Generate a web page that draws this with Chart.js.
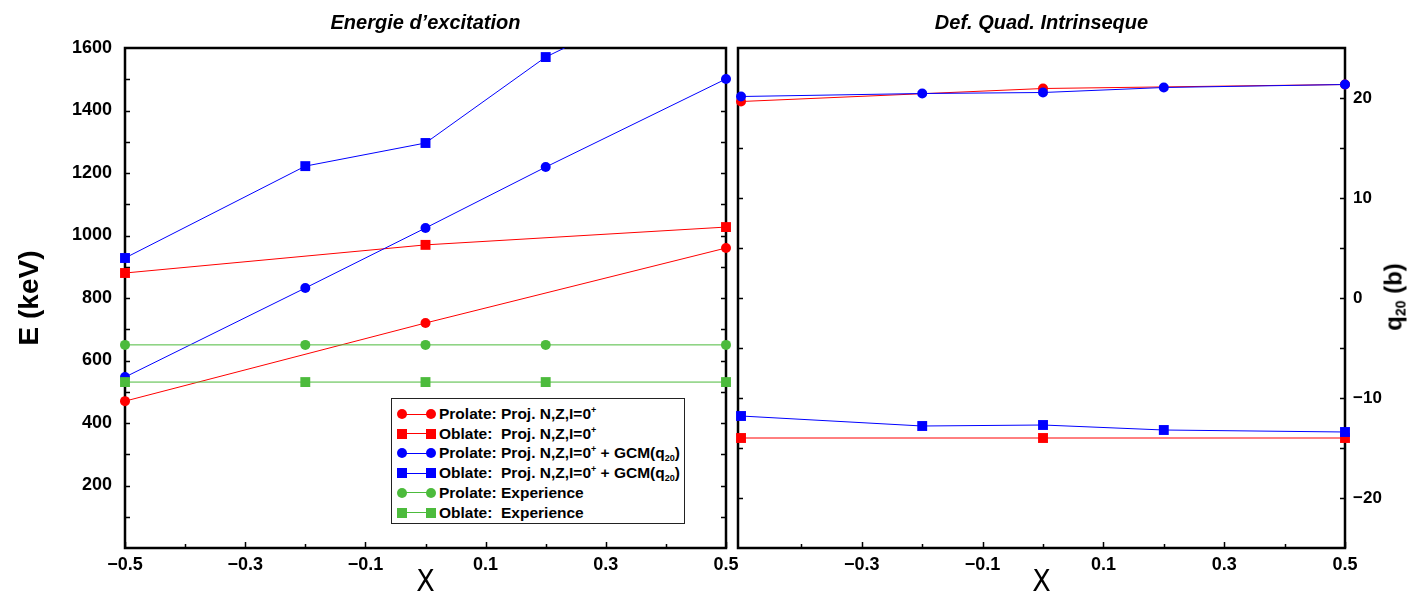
<!DOCTYPE html>
<html>
<head>
<meta charset="utf-8">
<script src="https://cdn.jsdelivr.net/npm/chart.js@4.4.0/dist/chart.umd.min.js"></script>
<style>
  body { margin: 0; background: #fff; }
  #wrap { position: relative; width: 1413px; height: 596px; overflow: hidden; font-family: 'Liberation Sans', Arial, sans-serif; }
  #left { position: absolute; left: 0; top: 0; }
  #right { position: absolute; left: 731px; top: 0; }
  #qtitle { position: absolute; left: 1394px; top: 297px; transform: translate(-50%, -50%) rotate(-90deg);
            font-weight: bold; font-size: 24px; white-space: nowrap; }
  #qtitle sub { font-size: 14px; vertical-align: -4px; }
  #legend { position: absolute; left: 391px; top: 398px; width: 292px; height: 124px;
            border: 1.5px solid #222; background: #fff; }
  .row { position: absolute; left: 0; height: 20px; width: 100%; }
  .row .ln { position: absolute; left: 10px; width: 29px; top: 9.5px; height: 1px; }
  .row .mk { position: absolute; top: 5px; width: 10px; height: 10px; }
  .row .mk.c { border-radius: 50%; }
  .row .tx { position: absolute; left: 47px; top: 1px; font-weight: bold; font-size: 15.5px; white-space: pre; line-height: 18px; }
  .row sup { font-size: 9px; vertical-align: 6px; line-height: 0; }
  .row sub { font-size: 9px; vertical-align: -3px; line-height: 0; }
</style>
</head>
<body>
<div id="wrap">
  <canvas id="left" width="745" height="596"></canvas>
  <canvas id="right" width="682" height="596"></canvas>
  <div id="qtitle">q<sub>20</sub> (b)</div>
  <div id="legend"></div>
</div>
<script>
// x positions (mixing parameter X)
const xAll = [-0.5, -0.2, 0, 0.2, 0.5];
const xProj = [-0.5, 0, 0.5];

// excitation energy (keV)
const eProlateProj = [470, 720, 960];
const eOblateProj = [880, 970, 1027];
const eProlateGcm = [547, 832, 1024, 1219, 1501];
const eOblateGcm = [928, 1222, 1296, 1571, 1850];
const eProlateExp = [650, 650, 650, 650, 650];
const eOblateExp = [531, 531, 531, 531, 531];

// intrinsic quadrupole deformation q20 (b)
const qProlateProj = [19.65, 20.95, 21.35];
const qOblateProj = [-14.0, -14.0, -14.0];
const qProlateGcm = [20.15, 20.45, 20.55, 21.05, 21.35];
const qOblateGcm = [-11.8, -12.8, -12.7, -13.2, -13.4];

// ticks
const xTickVals = [-0.5, -0.3, -0.1, 0.1, 0.3, 0.5];
const xTickValsRight = [-0.3, -0.1, 0.1, 0.3, 0.5];
const xMinor = [-0.4, -0.2, 0, 0.2, 0.4];
const eTickVals = [200, 400, 600, 800, 1000, 1200, 1400, 1600];
const eMarks = [100, 200, 300, 400, 500, 600, 700, 800, 900, 1000, 1100, 1200, 1300, 1400, 1500];
const qTickVals = [-20, -10, 0, 10, 20];
const qMarks = [-20, -15, -10, -5, 0, 5, 10, 15, 20];

const seriesNames = [
  'Prolate: Proj. N,Z,I=0<sup>+</sup>',
  'Oblate:  Proj. N,Z,I=0<sup>+</sup>',
  'Prolate: Proj. N,Z,I=0<sup>+</sup> + GCM(q<sub>20</sub>)',
  'Oblate:  Proj. N,Z,I=0<sup>+</sup> + GCM(q<sub>20</sub>)',
  'Prolate: Experience',
  'Oblate:  Experience'
];

const RED = '#ff0000', BLUE = '#0000ff', GREEN = '#4cbb3c';
const FONT = "'Liberation Sans', Arial, sans-serif";
const NARROW = "'Liberation Sans Narrow', 'DejaVu Sans Condensed', " + FONT;

function pts(xs, ys) { return xs.map((x, i) => ({ x: x, y: ys[i] })); }
function fmt(v) { return v < 0 ? '\u2212' + String(Math.abs(v)) : String(v); }

function series(ys, xs, color, shape, order) {
  return {
    data: pts(xs, ys),
    borderColor: color, backgroundColor: color,
    borderWidth: 1,
    pointStyle: shape,
    pointRadius: shape === 'rect' ? 7 : 5,
    pointHoverRadius: shape === 'rect' ? 7 : 5,
    pointBorderWidth: 0,
    showLine: true, tension: 0, order: order,
    clip: { left: 10, right: 10, top: 0, bottom: 10 }
  };
}

// frame and inward tick marks
const framePlugin = {
  id: 'frame',
  beforeDatasetsDraw(chart, args, o) {
    const { ctx, chartArea: a, scales } = chart;
    ctx.save();
    ctx.strokeStyle = '#000';
    ctx.lineWidth = 1.5;
    ctx.beginPath();
    o.yMarks.forEach(v => {
      const y = Math.round(scales.y.getPixelForValue(v)) + 0.5;
      ctx.moveTo(a.left, y); ctx.lineTo(a.left + 5, y);
      ctx.moveTo(a.right, y); ctx.lineTo(a.right - 5, y);
    });
    o.xMajor.forEach(v => {
      const x = Math.round(scales.x.getPixelForValue(v)) + 0.5;
      ctx.moveTo(x, a.bottom); ctx.lineTo(x, a.bottom - 6);
    });
    o.xMinor.forEach(v => {
      const x = Math.round(scales.x.getPixelForValue(v)) + 0.5;
      ctx.moveTo(x, a.bottom); ctx.lineTo(x, a.bottom - 4);
    });
    ctx.stroke();
    ctx.lineWidth = 2.5;
    ctx.strokeRect(a.left, a.top, a.right - a.left, a.bottom - a.top);
    ctx.restore();
  }
};

function xScale(min, ticks) {
  return {
    type: 'linear', min: min, max: 0.5,
    grid: { display: false, drawTicks: false },
    border: { display: false },
    afterBuildTicks: s => { s.ticks = ticks.map(v => ({ value: v })); },
    afterFit: s => { s.height = 48; s.paddingLeft = 0; s.paddingRight = 0; },
    ticks: { autoSkip: false, maxRotation: 0, padding: 6, color: '#000',
             font: { family: FONT, size: 18, weight: 'bold' }, callback: v => fmt(v) },
    title: { display: true, text: 'X', color: '#000',
             font: { family: NARROW, size: 30, weight: 'normal', lineHeight: 0.8 },
             padding: { top: 0, bottom: 1 } }
  };
}

function titleOpts(text) {
  return {
    display: true, text: text, fullSize: false, color: '#000',
    font: { family: FONT, size: 20, weight: 'bold', style: 'italic', lineHeight: 1.2 },
    padding: { top: 11, bottom: 13 }
  };
}

new Chart(document.getElementById('left'), {
  type: 'scatter',
  data: {
    datasets: [
      series(eProlateProj, xProj, RED, 'circle', 2),
      series(eOblateProj, xProj, RED, 'rect', 2),
      series(eProlateGcm, xAll, BLUE, 'circle', 1),
      series(eOblateGcm, xAll, BLUE, 'rect', 1),
      series(eProlateExp, xAll, GREEN, 'circle', 0),
      series(eOblateExp, xAll, GREEN, 'rect', 0)
    ]
  },
  options: {
    responsive: false, animation: false,
    layout: { padding: { left: 0, right: 19, top: 0, bottom: 0 } },
    plugins: {
      legend: { display: false }, tooltip: { enabled: false },
      title: titleOpts('Energie d\u2019excitation'),
      frame: { yMarks: eMarks, xMajor: xTickVals, xMinor: xMinor }
    },
    scales: {
      x: xScale(-0.5, xTickVals),
      y: {
        type: 'linear', min: 0, max: 1600,
        grid: { display: false, drawTicks: false },
        border: { display: false },
        afterBuildTicks: s => { s.ticks = eTickVals.map(v => ({ value: v })); },
        afterFit: s => { s.width = 125; s.paddingTop = 0; s.paddingBottom = 0; },
        ticks: { padding: 13, color: '#000', font: { family: FONT, size: 18, weight: 'bold' },
                 callback: v => fmt(v) },
        title: { display: true, text: 'E (keV)', color: '#000',
                 font: { family: FONT, size: 28, weight: 'bold', lineHeight: 1 },
                 padding: { top: 16, bottom: 0 } }
      }
    }
  },
  plugins: [framePlugin]
});

new Chart(document.getElementById('right'), {
  type: 'scatter',
  data: {
    datasets: [
      series(qProlateProj, xProj, RED, 'circle', 2),
      series(qOblateProj, xProj, RED, 'rect', 2),
      series(qProlateGcm, xAll, BLUE, 'circle', 1),
      series(qOblateGcm, xAll, BLUE, 'rect', 1)
    ]
  },
  options: {
    responsive: false, animation: false,
    layout: { padding: { left: 5, right: 0, top: 0, bottom: 0 } },
    plugins: {
      legend: { display: false }, tooltip: { enabled: false },
      title: titleOpts('Def. Quad. Intrinseque'),
      frame: { yMarks: qMarks, xMajor: xTickValsRight, xMinor: xMinor }
    },
    scales: {
      x: xScale(-0.505, xTickValsRight),
      y: {
        type: 'linear', position: 'right', min: -25, max: 25,
        grid: { display: false, drawTicks: false },
        border: { display: false },
        afterBuildTicks: s => { s.ticks = qTickVals.map(v => ({ value: v })); },
        afterFit: s => { s.width = 68; s.paddingTop = 0; s.paddingBottom = 0; },
        ticks: { padding: 8, color: '#000', font: { family: FONT, size: 17, weight: 'bold' },
                 callback: v => fmt(v) }
      }
    }
  },
  plugins: [framePlugin]
});

// legend box inside the left panel
const legendColors = [RED, RED, BLUE, BLUE, GREEN, GREEN];
const legendShapes = ['c', 's', 'c', 's', 'c', 's'];
const legendEl = document.getElementById('legend');
seriesNames.forEach((name, i) => {
  const row = document.createElement('div');
  row.className = 'row';
  row.style.top = (5 + i * 19.7) + 'px';
  const c = legendColors[i];
  row.innerHTML =
    '<span class="ln" style="background:' + c + '"></span>' +
    '<span class="mk ' + legendShapes[i] + '" style="left:5px;background:' + c + '"></span>' +
    '<span class="mk ' + legendShapes[i] + '" style="left:34px;background:' + c + '"></span>' +
    '<span class="tx">' + name + '</span>';
  legendEl.appendChild(row);
});
</script>
</body>
</html>
